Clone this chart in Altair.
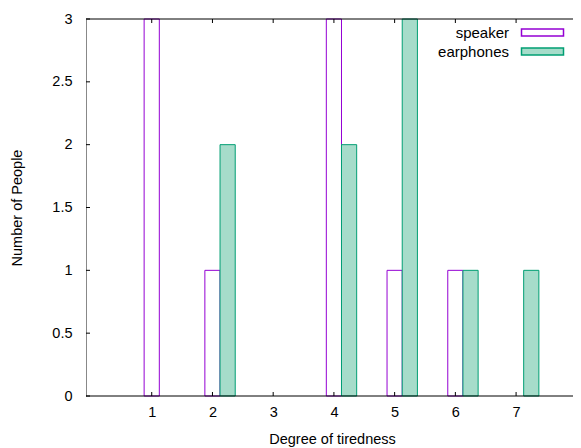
import altair as alt
import pandas as pd

degrees = [1, 2, 3, 4, 5, 6, 7]
speaker = [3, 1, 0, 3, 1, 1, 0]
earphones = [0, 2, 0, 2, 3, 1, 1]
series_names = ["speaker", "earphones"]
series_shift = [0.0, 0.25]
y_ticks = [0, 0.5, 1, 1.5, 2, 2.5, 3]
x_ticks = [1, 2, 3, 4, 5, 6, 7]
frame_y = [0, 3]

rows = []
for d, s, e in zip(degrees, speaker, earphones):
    rows.append({"degree": d, "series": series_names[0], "count": s, "shift": series_shift[0]})
    rows.append({"degree": d, "series": series_names[1], "count": e, "shift": series_shift[1]})
df = pd.DataFrame(rows)

ytick_df = pd.DataFrame({"t": y_ticks})
xtick_df = pd.DataFrame({"t": x_ticks})
frame_df = pd.DataFrame({"t": frame_y})

FONT = "Liberation Sans"
FS = 14.5
PURPLE = "#9400D3"
GREEN = "#009E73"
HATCH = "#a6dcca"

# visible part of the plot (the right edge of the frame lies past the picture)
W, H = 487, 377
PX_PER_UNIT = 62
xscale = alt.Scale(domain=[0, W / PX_PER_UNIT], nice=False, zero=False)
yscale = alt.Scale(domain=[0, 3], nice=False)

legend = alt.Legend(
    title=None, orient="none", legendX=408, legendY=6,
    symbolType="M4,-0.7L12.4,-0.7L12.4,0.7L4,0.7Z", symbolSize=100,
    symbolStrokeWidth=1.5, labelAlign="right", labelOffset=0, symbolOffset=0,
    labelFont=FONT, labelFontSize=15, labelColor="black", padding=0, rowPadding=3,
)

bars = alt.Chart(df).transform_filter("datum.count > 0").transform_calculate(
    x0="datum.degree + datum.shift - 0.125",
    x1="datum.degree + datum.shift + 0.125",
    base="0",
).mark_bar(strokeWidth=1, orient="vertical").encode(
    x=alt.X("x0:Q", scale=xscale, axis=alt.Axis(
        values=x_ticks, ticks=False, domain=False, grid=False, labelPadding=9,
        title="Degree of tiredness", titlePadding=14, format="d",
        titleAnchor="start", titleX=246, titleAlign="center")),
    x2="x1:Q",
    y=alt.Y("count:Q", scale=yscale, axis=alt.Axis(
        values=y_ticks, ticks=False, domain=True, domainColor="#888888", grid=False,
        labelPadding=14, labelExpr="datum.value + ''",
        title="Number of People", titlePadding=27)),
    y2="base:Q",
    fill=alt.Fill("series:N", scale=alt.Scale(domain=series_names, range=["white", HATCH]), legend=legend),
    stroke=alt.Stroke("series:N", scale=alt.Scale(domain=series_names, range=[PURPLE, GREEN]), legend=legend),
)

frame = alt.Chart(frame_df).mark_rule(color="black", strokeWidth=1).encode(
    y=alt.Y("t:Q", scale=yscale), x=alt.value(0), x2=alt.value(W))
yt_left = alt.Chart(ytick_df).mark_rule(color="black").encode(
    y=alt.Y("t:Q", scale=yscale), x=alt.value(0), x2=alt.value(4))
xt_bottom = alt.Chart(xtick_df).mark_rule(color="black").encode(
    x=alt.X("t:Q", scale=xscale), y=alt.value(H), y2=alt.value(H - 4))
xt_top = alt.Chart(xtick_df).mark_rule(color="black").encode(
    x=alt.X("t:Q", scale=xscale), y=alt.value(0), y2=alt.value(4))

chart = alt.layer(bars, frame, yt_left, xt_bottom, xt_top).properties(
    width=W, height=H,
    autosize=alt.AutoSizeParams(type="none"),
    padding={"left": 78, "top": 11, "right": 0, "bottom": 52},
).configure_view(stroke=None).configure_axis(
    labelFont=FONT, labelFontSize=FS, labelColor="black",
    titleFont=FONT, titleFontSize=FS, titleColor="black", titleFontWeight="normal",
)

chart.save("out.html", embed_options={"renderer": "svg", "actions": False})
